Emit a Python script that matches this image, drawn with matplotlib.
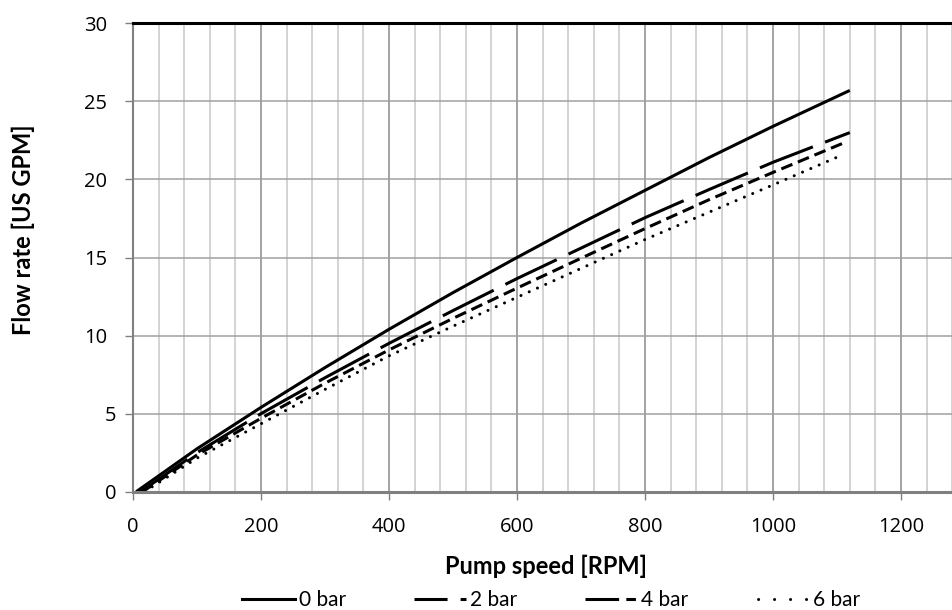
import matplotlib
matplotlib.use("Agg")
import matplotlib.pyplot as plt
from matplotlib.lines import Line2D
from matplotlib.ticker import MultipleLocator, FixedLocator

plt.rcParams['lines.scale_dashes'] = False
plt.rcParams['font.family'] = ['Open Sans', 'DejaVu Sans']

# ---- data ----
x_0bar = [5, 100, 200, 300, 400, 500, 600, 700, 800, 900, 1000, 1120]
y_0bar = [0, 2.75, 5.4, 7.95, 10.4, 12.75, 15.0, 17.2, 19.3, 21.4, 23.4, 25.7]
x_2bar = [12, 100, 200, 300, 400, 500, 600, 700, 800, 900, 1000, 1120]
y_2bar = [0, 2.5, 5.0, 7.3, 9.5, 11.6, 13.65, 15.6, 17.55, 19.35, 21.1, 23.0]
x_4bar = [15, 100, 200, 300, 400, 500, 600, 700, 800, 900, 1000, 1110]
y_4bar = [0, 2.35, 4.7, 6.95, 9.08, 11.1, 13.04, 14.95, 16.85, 18.7, 20.45, 22.33]
x_6bar = [18, 100, 200, 300, 400, 500, 600, 700, 800, 900, 1000, 1110]
y_6bar = [0, 2.15, 4.35, 6.55, 8.7, 10.6, 12.45, 14.3, 16.15, 17.9, 19.65, 21.6]
labels = ['0 bar', '2 bar', '4 bar', '6 bar']
x_ticks = [0, 200, 400, 600, 800, 1000, 1200]
y_ticks = [0, 5, 10, 15, 20, 25, 30]
x_label = 'Pump speed [RPM]'
y_label = 'Flow rate [US GPM]'

W, H = 952, 610
fig = plt.figure(figsize=(W / 100, H / 100), dpi=100)
ax = fig.add_axes([133 / W, (H - 491.7) / H, 896 / W, 468.4 / H])

lw = 2.2
ax.plot(x_0bar, y_0bar, color='black', lw=lw, solid_capstyle='butt')
ax.plot(x_2bar, y_2bar, color='black', lw=lw, linestyle=(0, (41, 9.4)), dash_capstyle='butt')
ax.plot(x_4bar, y_4bar, color='black', lw=lw, linestyle=(0, (8.6, 4.3)), dash_capstyle='butt')
ax.plot(x_6bar, y_6bar, color='black', lw=lw, linestyle=(0, (0.01, 6.5)), dash_capstyle='round')

ax.set_xlim(0, 1400)
ax.set_ylim(0, 30)
ax.xaxis.set_major_locator(FixedLocator(x_ticks))
ax.xaxis.set_minor_locator(MultipleLocator(40))
ax.yaxis.set_major_locator(FixedLocator(y_ticks))

ax.set_axisbelow(True)
ax.grid(which='minor', axis='x', color='#c8c8c8', lw=1.1)
ax.grid(which='major', axis='x', color='#8a8a8a', lw=1.1)
ax.grid(which='major', axis='y', color='#a0a0a0', lw=1.1)

ax.spines['right'].set_visible(False)
ax.spines['top'].set_color('black')
ax.spines['top'].set_linewidth(2.2)
ax.spines['left'].set_color('#808080')
ax.spines['left'].set_linewidth(1.5)
ax.spines['bottom'].set_color('#808080')
ax.spines['bottom'].set_linewidth(2.2)

ax.tick_params(which='minor', length=0)
ax.tick_params(which='major', direction='out', length=6, width=1, color='#808080',
               labelsize=14.5, labelcolor='black')
ax.tick_params(axis='x', pad=12)
ax.tick_params(axis='y', labelleft=False)

# y tick labels (single-digit labels sit further right, as in the reference)
for v in y_ticks:
    dx_px = 26 if v >= 10 else 17
    ax.annotate(str(v), xy=(0, v), xycoords=('axes fraction', 'data'),
                xytext=(-dx_px * 0.72, 0), textcoords='offset points',
                ha='right', va='center_baseline', fontsize=14.5, color='black')

fig.text(546 / W, 1 - 566 / H, x_label, ha='center', va='center',
         fontsize=17, fontweight='bold', family=['Lato', 'DejaVu Sans'])
fig.text(23 / W, 1 - 230 / H, y_label, ha='center', va='center', rotation=90,
         fontsize=17, fontweight='bold', family=['Lato', 'DejaVu Sans'])

handles = [
    Line2D([], [], color='black', lw=lw),
    Line2D([], [], color='black', lw=lw, linestyle=(0, (23.8, 9.4, 5.0, 30))),
    Line2D([], [], color='black', lw=lw, linestyle=(0, (24.2, 5.2, 6.9, 30))),
    Line2D([], [], color='black', lw=lw, linestyle=(-1.5, (0.01, 11.5)), dash_capstyle='round'),
]
fig.legend(handles, labels, loc='center', bbox_to_anchor=(551 / W, 1 - 600 / H),
           ncol=4, frameon=False, handlelength=2.54, handletextpad=0.17,
           columnspacing=3.25, prop={'family': ['Lato', 'DejaVu Sans'], 'size': 15},
           borderpad=0, borderaxespad=0)

fig.savefig('out.png', dpi=100)
